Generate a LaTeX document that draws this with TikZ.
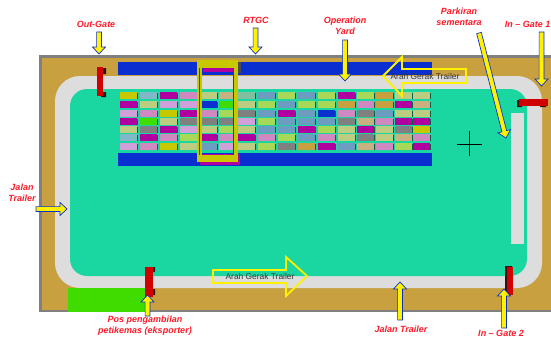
\documentclass[tikz,border=0pt]{standalone}
\usepackage{fontspec}
\setmainfont{Liberation Sans}
\definecolor{tanbg}{HTML}{C8A040}
\definecolor{framegray}{HTML}{808080}
\definecolor{road}{HTML}{DDDDDD}
\definecolor{yard}{HTML}{1AD6A0}
\definecolor{barblue}{HTML}{0A2FD0}
\definecolor{grass}{HTML}{40DC00}
\definecolor{gatered}{HTML}{D00000}
\definecolor{labelred}{HTML}{FF1A2A}
\definecolor{gatedark}{HTML}{301010}
\definecolor{boxy}{HTML}{C8C800}
\definecolor{boxm}{HTML}{B000A0}
\definecolor{boxp}{HTML}{D0A0D8}
\definecolor{boxk}{HTML}{D088C0}
\definecolor{boxg}{HTML}{808080}
\definecolor{boxb}{HTML}{6C9CC0}
\definecolor{boxc}{HTML}{80B8C8}
\definecolor{boxl}{HTML}{BCCC80}
\definecolor{boxa}{HTML}{A8D858}
\definecolor{boxt}{HTML}{C8B080}
\definecolor{boxo}{HTML}{C8A040}
\definecolor{boxB}{HTML}{0A30D0}
\definecolor{boxG}{HTML}{40DC00}
\definecolor{boxn}{HTML}{80C0A0}
\newcommand\yarrow[4]{%
  \pgfmathsetmacro\ldx{#3-(#1)}%
  \pgfmathsetmacro\ldy{#4-(#2)}%
  \pgfmathsetmacro\llen{veclen(\ldx,\ldy)}%
  \pgfmathsetmacro\ux{\ldx/\llen}%
  \pgfmathsetmacro\uy{\ldy/\llen}%
  \pgfmathsetmacro\bx{#3-7*\ux}%
  \pgfmathsetmacro\by{#4-7*\uy}%
  \draw[arrowbody]
    ({#1-2.4*\uy},{#2+2.4*\ux}) -- ({\bx-2.4*\uy},{\by+2.4*\ux}) --
    ({\bx-6.5*\uy},{\by+6.5*\ux}) -- (#3,#4) --
    ({\bx+6.5*\uy},{\by-6.5*\ux}) -- ({\bx+2.4*\uy},{\by-2.4*\ux}) --
    ({#1+2.4*\uy},{#2-2.4*\ux}) -- cycle;%
}
\newcommand\crow[2]{%
  \foreach \c [count=\i] in {#2} {%
    \pgfmathsetmacro\xx{{120,140,160,180,200,219,238,258,278,298,318,338,357,376,395,413}[\i-1]}%
    \fill[black!55!yard] (\xx+0.6,#1+0.6) rectangle ++(17,6.6);
    \fill[box\c] (\xx,#1) rectangle ++(17,6.6);
  }%
}
\tikzset{
  arrowbody/.style={draw=barblue,fill=yellow,line width=0.7pt,line join=miter},
  openarrow/.style={draw=yellow,line width=1.8pt,line join=miter},
  lbl/.style={text=labelred,font=\fontsize{9}{10.8}\selectfont\bfseries\itshape,align=center,inner sep=0pt},
  arahtext/.style={text=black!80,font=\fontsize{8.4}{10}\selectfont,inner sep=0pt},
  barstyle/.style={fill=barblue},
  gatebody/.style={fill=gatered},
  gateknob/.style={fill=gatedark}
}
\begin{document}
\begin{tikzpicture}[x=1pt,y=-1pt]
\useasboundingbox (0,0) rectangle (551,337);
\clip (0,0) rectangle (551,337);
\fill[white] (0,0) rectangle (551,337);
% ground
\fill[framegray] (39,55) rectangle (551,312);
\fill[tanbg] (42,58) rectangle (551,310);
% road and yard
\fill[road,rounded corners=25pt] (55,76) rectangle (542,288);
\fill[yard,rounded corners=17pt] (70,89) rectangle (527,276);
\fill[road] (511,113) rectangle (524,244);
\fill[grass] (68,288) rectangle (147,312);
% blue bars
\fill[barstyle] (118,62) rectangle (432,75);
\fill[barstyle] (118,153) rectangle (432,166);
% containers
\crow{92}{y,c,m,k,l,t,n,b,a,b,a,m,a,o,l,l}
\crow{101}{m,l,p,p,B,G,l,a,b,a,a,o,k,o,m,t}
\crow{110}{p,k,y,m,k,a,g,b,m,b,B,k,g,b,l,l}
\crow{118}{m,G,l,g,g,g,p,a,b,b,b,g,t,k,m,m}
\crow{126}{l,g,m,p,l,a,l,b,b,m,a,l,m,l,g,y}
\crow{134}{c,m,k,a,m,k,m,k,a,b,k,l,g,l,t,k}
\crow{143}{p,k,y,l,b,p,l,a,g,o,m,b,t,k,a,m}
% crane
\fill[boxm] (203,65) rectangle (240,72);
\fill[black!70] (238,62) rectangle (241,73);
\fill[boxm] (200,154) rectangle (240,165);
\draw[gatered,line width=1pt] (233,68) -- (233,155);
\fill[boxy] (197,60) rectangle (238,68);
\fill[boxy] (197,155) rectangle (238,162);
\fill[boxy] (197,68) rectangle (202,155);
\fill[boxy] (234,68) rectangle (238,155);
\draw[gatered,line width=1pt] (199.5,68) -- (199.5,155);
% gates
\fill[gateknob] (101,68) rectangle (106,74) (101,92) rectangle (106,97);
\fill[gatebody] (97,67) rectangle (103,96);
\fill[gateknob] (517,100) rectangle (522,107) (540,104) rectangle (546,107);
\fill[gatebody] (519,99) rectangle (548,106);
\fill[gateknob] (151,267) rectangle (155,272) (151,289) rectangle (155,295);
\fill[gatebody] (145,267) rectangle (153,297);
\fill[gateknob] (505,266) rectangle (512,272) (505,270) rectangle (507,292);
\fill[gatebody] (507,267) rectangle (513,295);
% cross
\draw[black,line width=0.6pt] (457,144) -- (482,144) (469.5,131) -- (469.5,156);
% open arrows
\draw[openarrow] (466,69) -- (402,69) -- (402,57) -- (383,76) -- (402,96) -- (402,83) -- (466,83) -- cycle;
\draw[openarrow] (213,270) -- (286,270) -- (286,257) -- (307,276) -- (286,296) -- (286,283) -- (213,283) -- cycle;
\node[arahtext] (arah1) at (425,76) {Arah Gerak Trailer};
\node[arahtext] (arah2) at (260,276) {Arah Gerak Trailer};
% pointer arrows
\yarrow{99}{32}{99}{54}
\yarrow{255.5}{28}{255.5}{54}
\yarrow{345}{40}{345}{81}
\yarrow{479}{33}{506}{138}
\yarrow{541.5}{32}{541.5}{86}
\yarrow{36}{209}{67}{209}
\yarrow{147.5}{316}{147.5}{295}
\yarrow{400}{320}{400}{282}
\yarrow{504}{328}{504}{289}
% labels
\node[lbl] (outgate) at (96,24) {Out-Gate};
\node[lbl] (rtgc) at (256,20) {RTGC};
\node[lbl] (opyard) at (345,25.5) {Operation\\Yard};
\node[lbl] (parkir) at (459,16.5) {Parkiran\\sementara};
\node[lbl,anchor=east] (ingate) at (550.5,24) {In – Gate 1};
\node[lbl] (jalan1) at (22,193) {Jalan\\Trailer};
\node[lbl] (pos) at (145,325.5) {Pos pengambilan\\petikemas (eksporter)};
\node[lbl] (jalan2) at (401,329) {Jalan Trailer};
\node[lbl] (ingate2) at (501,333) {In – Gate 2};
\end{tikzpicture}
\end{document}
